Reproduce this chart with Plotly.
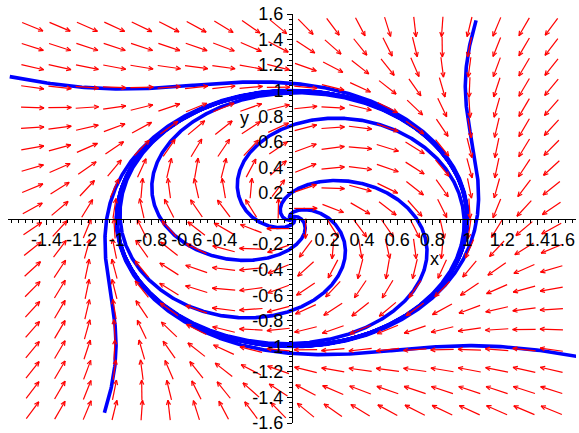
import numpy as np
import plotly.graph_objects as go

# ---- data -----------------------------------------------------------------
# phase-plane system (Maple DEplot style): x' = y + x(1-x^2-y^2), y' = -x + y(1-x^2-y^2)
rot_coef = 1.0
growth_coef = 1.0

# initial conditions of the drawn solution curves
outer_x0 = [-1.61, 1.05, 1.63, -1.07]
outer_y0 = [1.11, 1.55, -1.08, -1.52]
inner_x0 = [0.71, 0.0, -0.75, 0.0]
inner_y0 = [0.0, -0.72, 0.0, 0.73]

# direction-field grid (20 x 20)
grid_x = np.linspace(-1.48, 1.48, 20)
grid_y = np.linspace(-1.50, 1.50, 20)

x_tick_vals = [-1.4, -1.2, -1.0, -0.8, -0.6, -0.4, 0.2, 0.4, 0.6, 0.8, 1.0, 1.2, 1.4, 1.6]
x_tick_text = ["-1.4", "-1.2", "-1", "-0.8", "-0.6", "-0.4", "0.2", "0.4", "0.6", "0.8", "1", "1.2", "1.4", ""]
x_edge_label = "1.6"
y_tick_vals = [-1.6, -1.4, -1.2, -1.0, -0.8, -0.6, -0.4, -0.2, 0.2, 0.4, 0.6, 0.8, 1.0, 1.2, 1.4, 1.6]
y_tick_text = ["-1.6", "-1.4", "-1.2", "-1", "-0.8", "-0.6", "-0.4", "-0.2", "0.2", "0.4", "0.6", "0.8", "1", "1.2", "1.4", "1.6"]

X_RANGE = [-1.62, 1.62]
Y_RANGE = [-1.60, 1.60]

# ---- model ------------------------------------------------------------------
def field(x, y):
    s = growth_coef * (1 - x * x - y * y)
    return rot_coef * y + x * s, -rot_coef * x + y * s


def integrate(x0, y0, t_end, dt):
    xs, ys = [x0], [y0]
    x, y = x0, y0
    n = int(abs(t_end) / dt)
    h = dt if t_end > 0 else -dt
    for _ in range(n):
        k1 = field(x, y)
        k2 = field(x + h / 2 * k1[0], y + h / 2 * k1[1])
        k3 = field(x + h / 2 * k2[0], y + h / 2 * k2[1])
        k4 = field(x + h * k3[0], y + h * k3[1])
        x = x + h / 6 * (k1[0] + 2 * k2[0] + 2 * k3[0] + k4[0])
        y = y + h / 6 * (k1[1] + 2 * k2[1] + 2 * k3[1] + k4[1])
        xs.append(x)
        ys.append(y)
    return xs, ys


cx, cy = [], []
for x0, y0 in zip(outer_x0, outer_y0):
    xs, ys = integrate(x0, y0, 12.0, 0.005)
    cx += xs + [None]
    cy += ys + [None]
for x0, y0 in zip(inner_x0, inner_y0):
    bx, by = integrate(x0, y0, -6.5, 0.005)
    fx, fy = integrate(x0, y0, 12.0, 0.005)
    cx += bx[::-1] + fx[1:] + [None]
    cy += by[::-1] + fy[1:] + [None]

# ---- arrows (uniform on-screen size) ---------------------------------------
W, H = 579, 433
ML, MR, MT, MB = 8, 3, 14, 10
PX = (W - ML - MR) / (X_RANGE[1] - X_RANGE[0])
PY = (H - MT - MB) / (Y_RANGE[1] - Y_RANGE[0])
half_a, half_b = 11.5, 10.0   # half-length horizontally / vertically (px)
barb_len, barb_ang = 5.0, np.radians(24)

ax_, ay_ = [], []
for gx in grid_x:
    for gy in grid_y:
        u, v = field(gx, gy)
        pu, pv = u * PX, v * PY
        n = np.hypot(pu, pv)
        if n == 0:
            continue
        nx, ny = pu / n, pv / n
        L = 1.0 / np.hypot(nx / half_a, ny / half_b)
        tx, ty = gx - nx * L / PX, gy - ny * L / PY
        hx, hy = gx + nx * L / PX, gy + ny * L / PY
        ax_ += [tx, hx, None]
        ay_ += [ty, hy, None]
        for sgn in (1, -1):
            c, s = np.cos(sgn * barb_ang), np.sin(sgn * barb_ang)
            bx = -(nx * c - ny * s)
            by = -(nx * s + ny * c)
            ax_ += [hx, hx + bx * barb_len / PX, None]
            ay_ += [hy, hy + by * barb_len / PY, None]

fig = go.Figure()
fig.add_trace(go.Scatter(x=cx, y=cy, mode="lines",
                         line=dict(color="#0000ff", width=3.6),
                         hoverinfo="skip", showlegend=False))
fig.add_trace(go.Scatter(x=ax_, y=ay_, mode="lines",
                         line=dict(color="#ff0000", width=1.2),
                         hoverinfo="skip", showlegend=False))

tick_font = dict(family="Liberation Sans, Arial, sans-serif", size=18, color="black")
minor_vals = [round(v, 2) for v in np.arange(-1.60, 1.6001, 0.04)]

fig.update_layout(
    width=W, height=H,
    margin=dict(l=ML, r=MR, t=MT, b=MB, autoexpand=False),
    plot_bgcolor="white", paper_bgcolor="white",
    showlegend=False,
    xaxis=dict(range=X_RANGE, anchor="free", position=0.5, showline=True,
               automargin=False, ticklabeloverflow="allow",
               linecolor="black", linewidth=1, showgrid=False, zeroline=False,
               ticks="outside", ticklen=5, tickcolor="black", tickwidth=1,
               tickmode="array", tickvals=x_tick_vals, ticktext=x_tick_text,
               tickfont=tick_font,
               minor=dict(ticks="outside", ticklen=3, tickcolor="black",
                          tickvals=minor_vals, showgrid=False)),
    yaxis=dict(range=Y_RANGE, anchor="free", position=0.5, showline=True,
               automargin=False, ticklabeloverflow="allow",
               linecolor="black", linewidth=1, showgrid=False, zeroline=False,
               ticks="outside", ticklen=5, tickcolor="black", tickwidth=1,
               tickmode="array", tickvals=y_tick_vals, ticktext=y_tick_text,
               tickfont=tick_font,
               minor=dict(ticks="outside", ticklen=3, tickcolor="black",
                          tickvals=minor_vals, showgrid=False)),
    annotations=[
        dict(x=0.81, y=-0.32, xref="x", yref="y", text="x", showarrow=False,
             font=tick_font, borderpad=0),
        dict(x=-0.27, y=0.79, xref="x", yref="y", text="y", showarrow=False,
             font=tick_font),
        dict(x=1.0, y=-0.17, xref="paper", yref="y", text=x_edge_label,
             xanchor="right", yanchor="middle", showarrow=False,
             font=tick_font, borderpad=0),
    ],
)

fig.write_html(
    "out.html",
    config={"displayModeBar": False},
    post_script="document.body.style.margin='0';document.body.style.padding='0';",
)
